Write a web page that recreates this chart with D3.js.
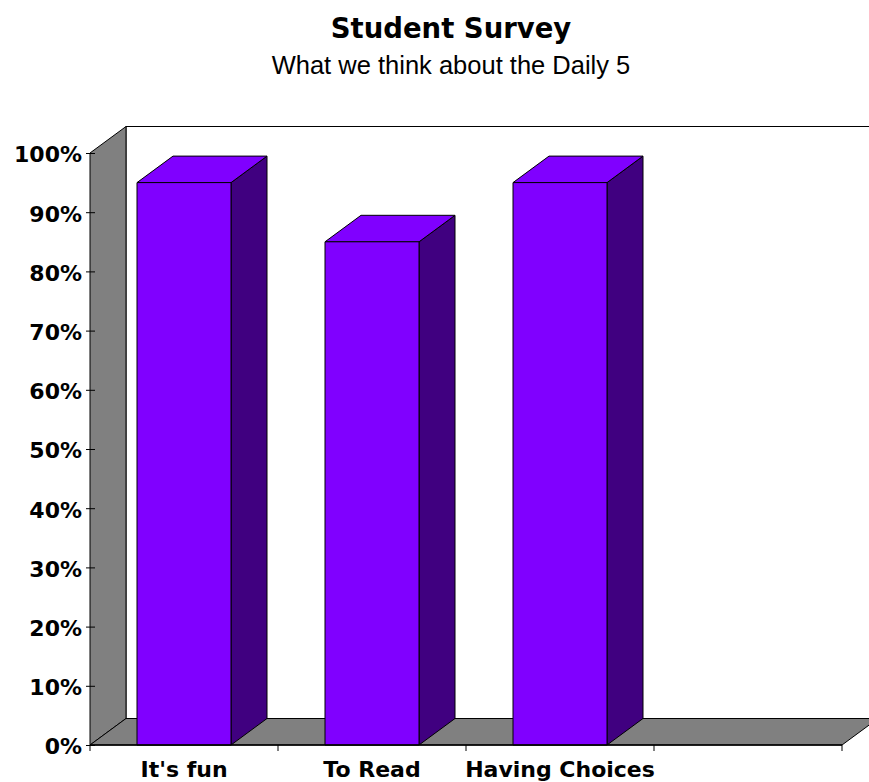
<!DOCTYPE html>
<html>
<head>
<meta charset="utf-8">
<script src="https://cdnjs.cloudflare.com/ajax/libs/d3/7.8.5/d3.min.js"></script>
<style>
  body { margin: 0; background: #fff; }
  svg { display: block; }
</style>
</head>
<body>
<div id="chart"></div>
<script>
// Data
const categories = ["It's fun", "To Read", "Having Choices", ""];
const values = [0.95, 0.85, 0.95, null];
const yTicks = [0, 0.1, 0.2, 0.3, 0.4, 0.5, 0.6, 0.7, 0.8, 0.9, 1.0];
const titleText = "Student Survey";
const subtitleText = "What we think about the Daily 5";

const W = 869, H = 782;
const margin = {top: 153, right: 27, bottom: 37, left: 90};
const depth = {dx: 36, dy: -26.5};
const labelFont = "'DejaVu Sans', Verdana, sans-serif";

const svg = d3.select("#chart").append("svg")
    .attr("width", W)
    .attr("height", H);

const x = d3.scaleBand()
    .domain(categories)
    .range([margin.left, W - margin.right])
    .paddingInner(0.5)
    .paddingOuter(0.25);

const y = d3.scaleLinear()
    .domain([0, 1])
    .range([H - margin.bottom, margin.top]);

const x0 = margin.left, x1 = W - margin.right;
const y0 = y(0), yTop = y(1);

// back wall
svg.append("path")
    .attr("d", `M${x0 + depth.dx},${y0 + depth.dy} L${x0 + depth.dx},${yTop + depth.dy} L${x1 + depth.dx},${yTop + depth.dy}`)
    .attr("fill", "#fff")
    .attr("stroke", "#000")
    .attr("stroke-width", 1);

// left wall
svg.append("path")
    .attr("d", `M${x0},${y0} L${x0},${yTop} L${x0 + depth.dx},${yTop + depth.dy} L${x0 + depth.dx},${y0 + depth.dy} Z`)
    .attr("fill", "#808080")
    .attr("stroke", "#000")
    .attr("stroke-width", 1);

// floor
svg.append("path")
    .attr("d", `M${x0},${y0} L${x1},${y0} L${x1 + depth.dx},${y0 + depth.dy} L${x0 + depth.dx},${y0 + depth.dy} Z`)
    .attr("fill", "#808080")
    .attr("stroke", "#000")
    .attr("stroke-width", 1);

// bars
const bars = svg.append("g").selectAll("g")
    .data(categories.map((c, i) => ({cat: c, v: values[i]})).filter(d => d.v != null))
    .join("g")
    .attr("stroke", "#000")
    .attr("stroke-width", 1)
    .attr("stroke-linejoin", "round");

bars.append("path") // side
    .attr("d", d => {
        let bx = x(d.cat) + x.bandwidth(), by = y(d.v);
        return `M${bx},${y0} L${bx},${by} L${bx + depth.dx},${by + depth.dy} L${bx + depth.dx},${y0 + depth.dy} Z`;
    })
    .attr("fill", "#400080");

bars.append("path") // top
    .attr("d", d => {
        let bx = x(d.cat), bw = x.bandwidth(), by = y(d.v);
        return `M${bx},${by} L${bx + depth.dx},${by + depth.dy} L${bx + bw + depth.dx},${by + depth.dy} L${bx + bw},${by} Z`;
    })
    .attr("fill", "#8000ff");

bars.append("rect") // front
    .attr("x", d => x(d.cat))
    .attr("y", d => y(d.v))
    .attr("width", x.bandwidth())
    .attr("height", d => y0 - y(d.v))
    .attr("fill", "#8000ff");

// y axis
const yAxis = d3.axisLeft(y)
    .tickValues(yTicks)
    .tickFormat(d3.format(".0%"))
    .tickSize(4)
    .tickPadding(4);

const gy = svg.append("g")
    .attr("transform", `translate(${x0},0)`)
    .call(yAxis);
gy.select(".domain").remove();
gy.selectAll(".tick line").attr("x2", 5).attr("x1", -4).attr("stroke", "#000");
gy.selectAll(".tick text")
    .attr("fill", "#000")
    .attr("dy", "0.4em")
    .style("font-family", labelFont)
    .style("font-weight", "bold")
    .style("font-size", "22px");

// x axis
svg.append("line")
    .attr("x1", x0).attr("x2", x1)
    .attr("y1", y0).attr("y2", y0)
    .attr("stroke", "#000").attr("stroke-width", 1.5);

const boundaries = d3.range(categories.length + 1).map(i => x0 + i * x.step());
svg.append("g").selectAll("line")
    .data(boundaries)
    .join("line")
    .attr("x1", d => d).attr("x2", d => d)
    .attr("y1", y0).attr("y2", y0 + 6)
    .attr("stroke", "#000");

svg.append("g").selectAll("text")
    .data(categories)
    .join("text")
    .attr("x", d => x(d) + x.bandwidth() / 2)
    .attr("y", y0 + 32)
    .attr("text-anchor", "middle")
    .style("font-family", labelFont)
    .style("font-weight", "bold")
    .style("font-size", "22px")
    .text(d => d);

// titles
svg.append("text")
    .attr("x", 451)
    .attr("y", 38)
    .attr("text-anchor", "middle")
    .style("font-family", labelFont)
    .style("font-weight", "bold")
    .style("font-size", "27.5px")
    .text(titleText);

svg.append("text")
    .attr("x", 451)
    .attr("y", 74)
    .attr("text-anchor", "middle")
    .style("font-family", "'Liberation Sans', Arial, sans-serif")
    .style("font-size", "25.5px")
    .text(subtitleText);
</script>
</body>
</html>
